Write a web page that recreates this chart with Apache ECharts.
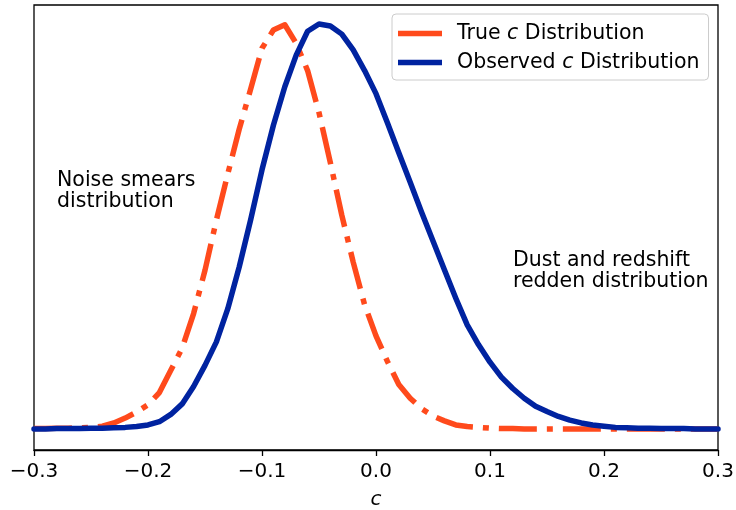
<!DOCTYPE html>
<html>
<head>
<meta charset="utf-8">
<script src="https://cdn.jsdelivr.net/npm/echarts@6/dist/echarts.min.js"></script>
<style>
  html, body { margin: 0; padding: 0; background: #fff; }
  #chart { width: 736px; height: 510px; }
</style>
</head>
<body>
<div id="chart"></div>
<script>
// Colour parameter c, sampled every 0.01
var cValues = [
  -0.30, -0.29, -0.28, -0.27, -0.26, -0.25, -0.24, -0.23, -0.22, -0.21,
  -0.20, -0.19, -0.18, -0.17, -0.16, -0.15, -0.14, -0.13, -0.12, -0.11,
  -0.10, -0.09, -0.08, -0.07, -0.06, -0.05, -0.04, -0.03, -0.02, -0.01,
   0.00,  0.01,  0.02,  0.03,  0.04,  0.05,  0.06,  0.07,  0.08,  0.09,
   0.10,  0.11,  0.12,  0.13,  0.14,  0.15,  0.16,  0.17,  0.18,  0.19,
   0.20,  0.21,  0.22,  0.23,  0.24,  0.25,  0.26,  0.27,  0.28,  0.29,
   0.30
];

// Intrinsic (true) c distribution, peak-normalised
var trueC = [
  0.001, 0.001, 0.002, 0.002, 0.003, 0.004, 0.007, 0.015, 0.027, 0.042,
  0.060, 0.090, 0.145, 0.200, 0.285, 0.392, 0.516, 0.630, 0.740, 0.839,
  0.940, 0.985, 0.998, 0.952, 0.885, 0.781, 0.657, 0.528, 0.412, 0.307,
  0.230, 0.167, 0.110, 0.076, 0.050, 0.032, 0.020, 0.010, 0.006, 0.004,
  0.002, 0.001, 0.001, 0.000, 0.000, 0.000, 0.000, 0.000, 0.000, 0.000,
  0.000, 0.000, 0.000, 0.000, 0.000, 0.000, 0.000, 0.000, 0.000, 0.000,
  0.000
];

// Observed c distribution, peak-normalised
var observedC = [
  0.000, 0.000, 0.001, 0.001, 0.001, 0.002, 0.002, 0.003, 0.004, 0.006,
  0.010, 0.018, 0.036, 0.062, 0.105, 0.157, 0.215, 0.297, 0.400, 0.516,
  0.640, 0.750, 0.845, 0.923, 0.982, 1.000, 0.995, 0.975, 0.936, 0.885,
  0.828, 0.756, 0.682, 0.609, 0.535, 0.464, 0.393, 0.323, 0.257, 0.208,
  0.165, 0.128, 0.100, 0.076, 0.056, 0.043, 0.031, 0.022, 0.015, 0.010,
  0.007, 0.004, 0.003, 0.002, 0.002, 0.001, 0.001, 0.001, 0.000, 0.000,
  0.000
];

var xTickValues = [-0.3, -0.2, -0.1, 0.0, 0.1, 0.2, 0.3];
var seriesNames = ['True c Distribution', 'Observed c Distribution'];
var noteLeft = 'Noise smears\ndistribution';
var noteRight = 'Dust and redshift\nredden distribution';

var FONT = 'DejaVu Sans';
var FS = 20.5;      // legend and annotation text
var FS_TICK = 20;   // tick labels and axis name
var ORANGE = '#ff4a1c';
var BLUE = '#0023a0';

function pairs(ys) {
  return cValues.map(function (c, i) { return [c, ys[i]]; });
}

function tickText(v) {
  var r = Math.round(v * 10) / 10;
  var s = Math.abs(r).toFixed(1);
  return r < 0 ? '\u2212' + s : s;
}

var chart = echarts.init(document.getElementById('chart'), null, { renderer: 'canvas' });

chart.setOption({
  animation: false,
  backgroundColor: '#fff',
  grid: {
    left: 34, right: 18, top: 5, bottom: 60,
    outerBoundsMode: 'none',
    containLabel: false,
    show: true, borderColor: '#000', borderWidth: 1.3, backgroundColor: 'transparent'
  },
  xAxis: {
    type: 'value',
    min: xTickValues[0],
    max: xTickValues[xTickValues.length - 1],
    interval: 0.1,
    name: 'c',
    nameLocation: 'middle',
    nameGap: 40,
    nameTextStyle: { fontFamily: FONT, fontSize: FS_TICK, fontStyle: 'italic', color: '#000' },
    axisLine: { show: true, onZero: false, lineStyle: { color: '#000', width: 1.3 } },
    axisTick: { show: true, inside: false, length: 6, lineStyle: { color: '#000', width: 1.3 } },
    axisLabel: {
      show: true, margin: 12, color: '#000', fontFamily: FONT, fontSize: FS_TICK,
      formatter: tickText
    },
    splitLine: { show: false }
  },
  yAxis: {
    type: 'value',
    min: -0.05185,
    max: 1.0469,
    axisLine: { show: false },
    axisTick: { show: false },
    axisLabel: { show: false },
    splitLine: { show: false }
  },
  legend: {
    orient: 'vertical',
    left: 392,
    top: 14,
    padding: [9, 9, 7, 6],
    itemGap: 8,
    itemWidth: 44,
    itemHeight: 5.5,
    backgroundColor: 'rgba(255,255,255,0.8)',
    borderColor: '#cccccc',
    borderWidth: 1,
    borderRadius: 4,
    data: [
      { name: seriesNames[0], icon: 'rect' },
      { name: seriesNames[1], icon: 'rect' }
    ],
    formatter: function (name) {
      var parts = name.split(' c ');
      return '{p|' + parts[0] + ' }{i|c}{a| ' + parts[1] + '}';
    },
    textStyle: {
      color: '#000',
      fontFamily: FONT,
      fontSize: FS,
      rich: {
        p: { fontFamily: FONT, fontSize: FS, color: '#000', padding: [0, 0, 0, 10], lineHeight: 23 },
        i: { fontFamily: FONT, fontSize: FS, color: '#000', fontStyle: 'italic', lineHeight: 23 },
        a: { fontFamily: FONT, fontSize: FS, color: '#000', lineHeight: 23 }
      }
    }
  },
  graphic: [
    {
      type: 'text', left: 57, top: 170,
      style: { text: noteLeft, font: FS + 'px "' + FONT + '"', fill: '#000', lineHeight: 21 }
    },
    {
      type: 'text', left: 513, top: 250,
      style: { text: noteRight, font: FS + 'px "' + FONT + '"', fill: '#000', lineHeight: 21 }
    }
  ],
  series: [
    {
      name: seriesNames[0],
      type: 'line',
      data: pairs(trueC),
      showSymbol: false,
      symbol: 'none',
      smooth: false,
      color: ORANGE,
      lineStyle: { color: ORANGE, width: 5.5, type: [38, 10, 6, 10], cap: 'butt', join: 'round' },
      z: 2
    },
    {
      name: seriesNames[1],
      type: 'line',
      data: pairs(observedC),
      showSymbol: false,
      symbol: 'none',
      smooth: false,
      color: BLUE,
      lineStyle: { color: BLUE, width: 5.5, type: 'solid', cap: 'round', join: 'round' },
      z: 3
    }
  ]
});
</script>
</body>
</html>
